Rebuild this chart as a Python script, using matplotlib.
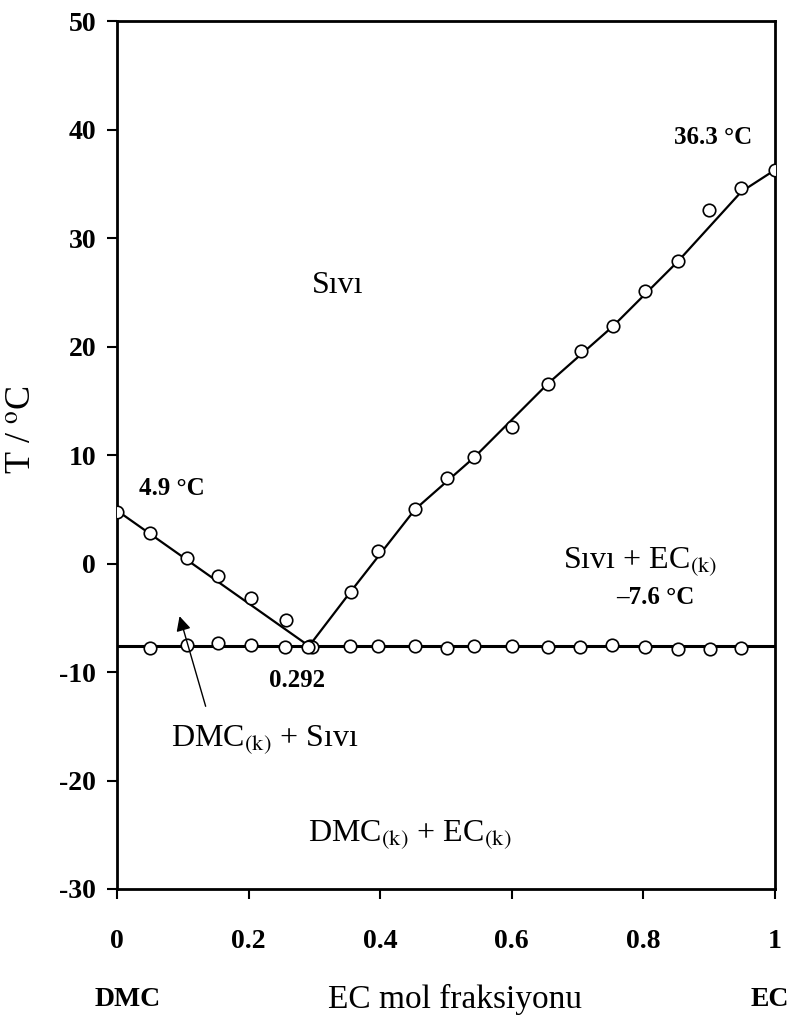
import numpy as np
import matplotlib.pyplot as plt

plt.rcParams['font.family'] = ['Liberation Serif', 'DejaVu Serif']
plt.rcParams['mathtext.fontset'] = 'stix'
plt.rcParams['axes.unicode_minus'] = False

# liquidus points, DMC side
dmc_x = [0.0, 0.051, 0.106, 0.154, 0.203, 0.257, 0.293]
dmc_t = [4.8, 2.8, 0.5, -1.1, -3.2, -5.2, -7.6]

# liquidus points, EC side
ec_x = [0.296, 0.355, 0.396, 0.453, 0.501, 0.543, 0.601, 0.655, 0.705, 0.754, 0.802, 0.853, 0.900, 0.949, 1.0]
ec_t = [-7.7, -2.6, 1.2, 5.0, 7.9, 9.8, 12.6, 16.6, 19.6, 21.9, 25.1, 27.9, 32.6, 34.6, 36.3]

# eutectic points
eut_x = [0.051, 0.107, 0.154, 0.203, 0.255, 0.290, 0.354, 0.396, 0.453, 0.501, 0.543,
         0.601, 0.655, 0.704, 0.752, 0.802, 0.853, 0.901, 0.949]
eut_t = [-7.8, -7.5, -7.3, -7.5, -7.7, -7.7, -7.6, -7.6, -7.6, -7.8, -7.6,
         -7.6, -7.7, -7.7, -7.5, -7.7, -7.9, -7.9, -7.8]

# fitted lines
dmc_line_x = [0.0, 0.292]
dmc_line_t = [4.9, -7.6]
ec_line_x = [0.292, 0.355, 0.453, 0.543, 0.655, 0.754, 0.853, 0.949, 1.0]
ec_line_t = [-7.6, -2.6, 5.0, 9.8, 16.6, 21.9, 27.9, 34.3, 36.3]
eut_line_x = [0.0, 1.0]
eut_line_t = [-7.6, -7.6]

fig = plt.figure(figsize=(7.9, 10.16), dpi=100)
ax = fig.add_axes([0.148, 0.125, 0.833, 0.854])

ax.plot(dmc_line_x, dmc_line_t, color='black', lw=1.6, zorder=2)
ax.plot(ec_line_x, ec_line_t, color='black', lw=1.6, zorder=2)
ax.plot(eut_line_x, eut_line_t, color='black', lw=2.2, zorder=2)

mk = dict(ls='none', marker='o', ms=9, mfc='white', mec='black', mew=1.2, zorder=3)
ax.plot(dmc_x, dmc_t, **mk)
ax.plot(ec_x, ec_t, **mk)
ax.plot(eut_x, eut_t, **mk)

ax.set_xlim(0, 1)
ax.set_ylim(-30, 50)
ax.set_xticks([0, 0.2, 0.4, 0.6, 0.8, 1])
ax.set_xticklabels(['0', '0.2', '0.4', '0.6', '0.8', '1'])
ax.set_yticks(range(-30, 51, 10))
for s in ax.spines.values():
    s.set_linewidth(2.0)
ax.tick_params(direction='out', length=7, width=1.5, labelsize=20, pad=8)
ax.tick_params(axis='x', pad=22)
for lab in ax.get_xticklabels() + ax.get_yticklabels():
    lab.set_fontweight('bold')

ax.set_ylabel('T / $^{\\rm o}$C', fontsize=26)
ax.yaxis.set_label_coords(-0.118, 0.53)

# region labels
ax.text(0.336, 25.6, 'Sıvı', fontsize=23, ha='center', va='center')
ax.text(0.795, 0.2, 'Sıvı + EC$_{\\rm (k)}$', fontsize=23, ha='center', va='center')
ax.text(0.225, -16.2, 'DMC$_{\\rm (k)}$ + Sıvı', fontsize=23, ha='center', va='center')
ax.text(0.445, -25.0, 'DMC$_{\\rm (k)}$ + EC$_{\\rm (k)}$', fontsize=23, ha='center', va='center')

# temperature / composition labels
ax.text(0.084, 6.9, '4.9 °C', fontsize=18, fontweight='bold', ha='center', va='center')
ax.text(0.906, 39.3, '36.3 °C', fontsize=18, fontweight='bold', ha='center', va='center')
ax.text(0.818, -3.1, '\u20137.6 °C', fontsize=18, fontweight='bold', ha='center', va='center')
ax.text(0.274, -10.8, '0.292', fontsize=18, fontweight='bold', ha='center', va='center')

ax.annotate('', xy=(0.094, -4.6), xytext=(0.136, -13.4),
            arrowprops=dict(arrowstyle='-|>', color='black', lw=1.0, mutation_scale=22))

fig.text(0.162, 0.016, 'DMC', fontsize=20, fontweight='bold', ha='center', va='center')
fig.text(0.975, 0.016, 'EC', fontsize=20, fontweight='bold', ha='center', va='center')
fig.text(0.576, 0.016, 'EC mol fraksiyonu', fontsize=24, ha='center', va='center')

fig.savefig('out.png', dpi=100)
